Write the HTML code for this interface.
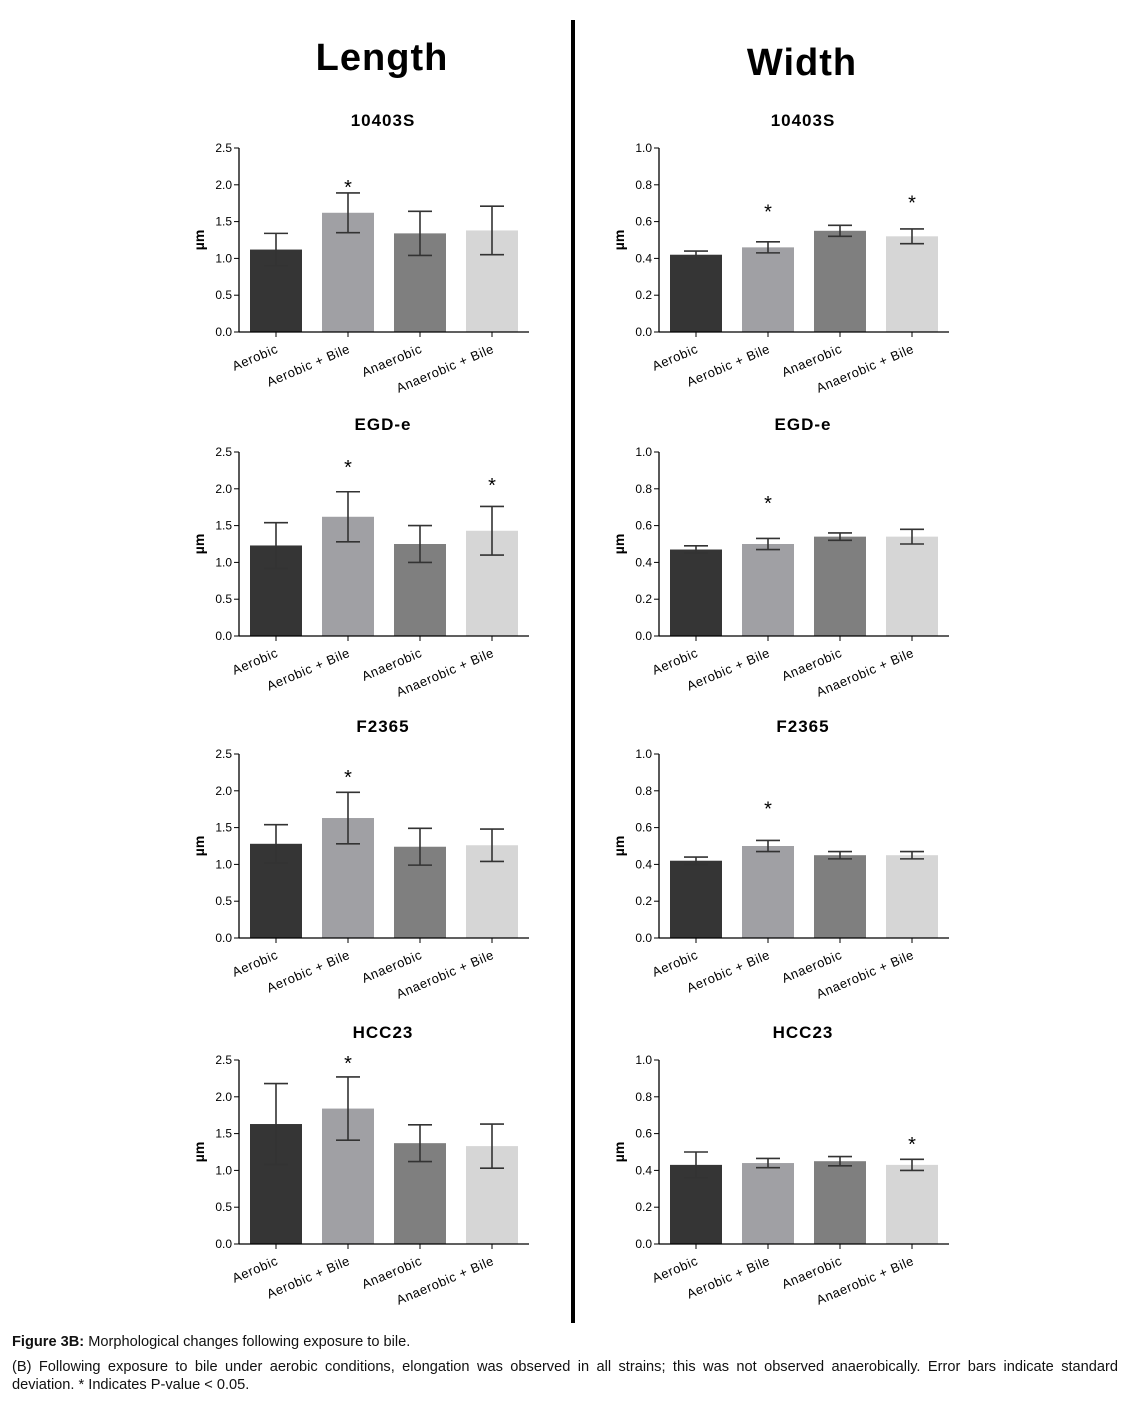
<!DOCTYPE html>
<html><head><meta charset="utf-8"><style>
body{margin:0;background:#fff;width:1126px;height:1404px;overflow:hidden;font-family:"Liberation Sans",sans-serif;}
svg{position:absolute;left:0;top:0}
.cap{position:absolute;left:12px;width:1106px;font-size:14.6px;color:#111;line-height:18px;white-space:nowrap}
</style></head><body>
<svg id="fig" width="1126" height="1330" xmlns="http://www.w3.org/2000/svg">
<rect x="571" y="20" width="4" height="1303" fill="#000"/>
<text x="382" y="70" font-size="38" font-weight="bold" text-anchor="middle" font-family="Liberation Sans" letter-spacing="1">Length</text>
<text x="802" y="75" font-size="38" font-weight="bold" text-anchor="middle" font-family="Liberation Sans" letter-spacing="1">Width</text>
</svg>
<div class="cap" style="top:1333px"><b>Figure 3B:</b> Morphological changes following exposure to bile.</div>
<div class="cap" style="top:1358px;text-align:justify;text-align-last:justify;white-space:normal">(B) Following exposure to bile under aerobic conditions, elongation was observed in all strains; this was not observed anaerobically. Error bars indicate standard</div>
<div class="cap" style="top:1376px">deviation. * Indicates P-value &lt; 0.05.</div>
<script>
const categories = ["Aerobic","Aerobic + Bile","Anaerobic","Anaerobic + Bile"];
const strains = ["10403S","EGD-e","F2365","HCC23"];
const lengthMeans = [[1.12,1.62,1.34,1.38],[1.23,1.62,1.25,1.43],[1.28,1.63,1.24,1.26],[1.63,1.84,1.37,1.33]];
const lengthErr = [[0.22,0.27,0.30,0.33],[0.31,0.34,0.25,0.33],[0.26,0.35,0.25,0.22],[0.55,0.43,0.25,0.30]];
const lengthStars = [[1],[1,3],[1],[1]];
const lengthStarLevels = [[2.01],[2.34,2.09],[2.23],[2.5]];
const widthMeans = [[0.42,0.46,0.55,0.52],[0.47,0.50,0.54,0.54],[0.42,0.50,0.45,0.45],[0.43,0.44,0.45,0.43]];
const widthErr = [[0.02,0.03,0.03,0.04],[0.02,0.03,0.02,0.04],[0.02,0.03,0.02,0.02],[0.07,0.025,0.025,0.03]];
const widthStars = [[1,3],[1],[1],[3]];
const widthStarLevels = [[0.67,0.72],[0.74],[0.72],[0.56]];
const lengthTicks = ["0.0","0.5","1.0","1.5","2.0","2.5"];
const widthTicks = ["0.0","0.2","0.4","0.6","0.8","1.0"];
const barColors = ["#353535","#a0a0a4","#7f7f7f","#d6d6d6"];

const NS="http://www.w3.org/2000/svg";
const svg=document.getElementById('fig');
function mk(tag,attrs,parent){const e=document.createElementNS(NS,tag);for(const k in attrs)e.setAttribute(k,attrs[k]);(parent||svg).appendChild(e);return e;}
const rowTops=[148,452,754,1060];
const plotH=184;

function panel(col,row,means,errs,stars,starLv,ticks,maxV,name){
  const x0 = col===0?239:659;
  const yTop=rowTops[row], yBot=yTop+plotH;
  const g=mk('g',{});
  
  
  const ys=v=>yBot-(v/maxV)*plotH;
  const xs=i=>x0+37+i*72;
  const t=mk('text',{x:x0+144,y:yTop-22,'font-size':17,'font-weight':'bold','text-anchor':'middle','font-family':'Liberation Sans','letter-spacing':1},g);
  t.textContent=strains[row];
  
  
  const yl=mk('text',{x:0,y:0,'font-size':14,'font-weight':'bold','text-anchor':'middle',transform:`translate(${x0-35},${(yTop+yBot)/2}) rotate(-90)`},g);
  yl.textContent="µm";
  
  
  means.forEach((m,i)=>{
    const b=mk('rect',{x:xs(i)-26,y:ys(m),width:52,height:ys(0)-ys(m),fill:barColors[i]},g);
    
    
    const e=errs[i],hi=ys(m+e),lo=ys(m-e);
    const eb=mk('path',{d:`M${xs(i)},${hi}V${lo}M${xs(i)-12},${hi}H${xs(i)+12}M${xs(i)-12},${lo}H${xs(i)+12}`,stroke:'#333','stroke-width':1.6,fill:'none'},g);
    
    
    const lb=mk('text',{x:0,y:0,'font-size':13,'letter-spacing':0.6,'text-anchor':'end','font-family':'Liberation Sans',transform:`translate(${xs(i)+3},${yBot+20}) rotate(-23)`},g);
    lb.textContent=categories[i];
    
    
    mk('line',{x1:xs(i),x2:xs(i),y1:yBot,y2:yBot+5,stroke:'#000','stroke-width':1},g);
  });
  stars.forEach((i,k)=>{
    const s=mk('text',{x:xs(i),y:ys(starLv[k])+10,'font-size':20,'text-anchor':'middle'},g);
    s.textContent="*";
    
    
  });
  mk('line',{x1:x0,x2:x0,y1:yTop,y2:yBot,stroke:'#000','stroke-width':1.3},g);
  mk('line',{x1:x0,x2:x0+290,y1:yBot,y2:yBot,stroke:'#000','stroke-width':1.3},g);
  ticks.forEach((tk,k)=>{
    const y=yBot-k*plotH/(ticks.length-1);
    mk('line',{x1:x0-5,x2:x0,y1:y,y2:y,stroke:'#000','stroke-width':1},g);
    const tt=mk('text',{x:x0-7,y:y+4,'font-size':12,'text-anchor':'end'},g);
    tt.textContent=tk;
    
    
  });
}
for(let r=0;r<4;r++){
  panel(0,r,lengthMeans[r],lengthErr[r],lengthStars[r],lengthStarLevels[r],lengthTicks,2.5,'length-'+strains[r].toLowerCase());
  panel(1,r,widthMeans[r],widthErr[r],widthStars[r],widthStarLevels[r],widthTicks,1.0,'width-'+strains[r].toLowerCase());
}
</script>
</body></html>
